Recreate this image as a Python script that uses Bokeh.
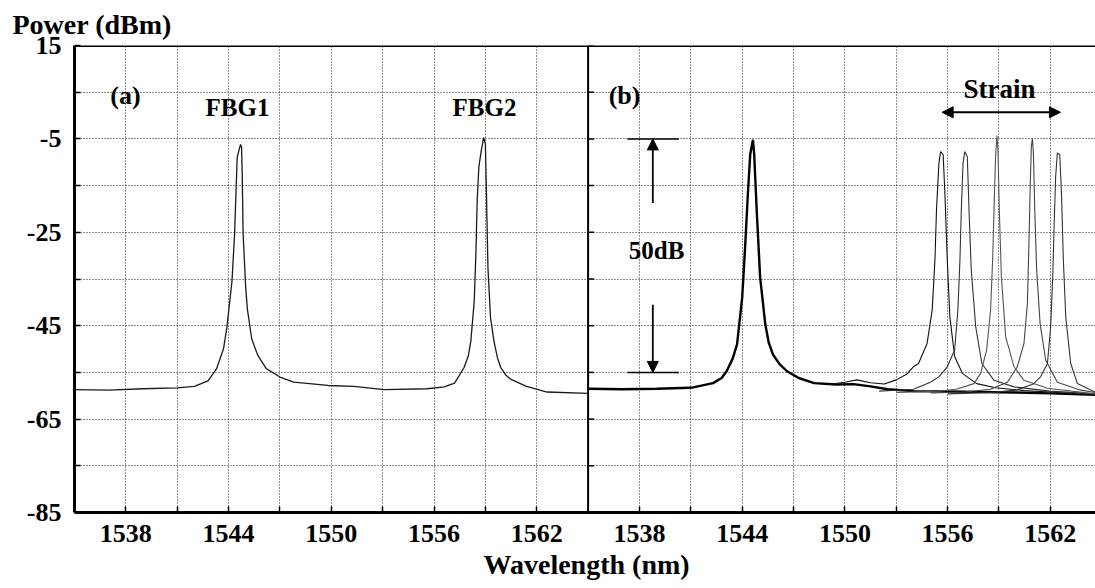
from bokeh.plotting import figure
from bokeh.models import (Range1d, FixedTicker, CustomJSTickFormatter, Span, Label,
                          Arrow, NormalHead, Title)
from bokeh.embed import file_html
from bokeh.resources import INLINE

# ---------------- data ----------------
# panel (a): FBG1 + FBG2 reflection spectrum
wl_a = [1535.0, 1537.0, 1539.0, 1541.0, 1542.0, 1542.8, 1543.3, 1543.7, 1543.9, 1544.2,
        1544.35, 1544.45, 1544.5, 1544.6, 1544.7, 1544.76, 1544.8, 1544.85, 1545.0, 1545.1,
        1545.35, 1545.7, 1546.2, 1547.0, 1547.8, 1549.8, 1551.3, 1553.1, 1555.6, 1556.6,
        1557.2, 1557.75, 1558.0, 1558.15, 1558.35, 1558.45, 1558.52, 1558.62, 1558.76, 1558.9,
        1559.0, 1559.05, 1559.15, 1559.3, 1559.5, 1559.7, 1559.9, 1560.2, 1560.5, 1561.4,
        1562.6, 1565.0]
pw_a = [-58.7, -58.8, -58.5, -58.3, -58.0, -56.8, -54.2, -50.0, -45.4, -35.4,
        -25.4, -14.7, -9.0, -7.5, -6.2, -6.8, -13.3, -25.4, -36.9, -41.5,
        -47.8, -51.3, -54.2, -56.0, -57.1, -57.8, -58.0, -58.7, -58.5, -58.1,
        -57.3, -54.0, -51.5, -48.3, -39.7, -29.0, -18.3, -11.0, -7.5, -4.7,
        -6.1, -14.6, -32.6, -43.3, -48.3, -51.8, -54.0, -55.6, -56.5, -58.0,
        -59.2, -59.5]

# panel (b): FBG1 (several overlapping sweeps) and the lower envelope
wl_b_fbg1 = [1535.0, 1537.0, 1539.0, 1541.0, 1542.3, 1542.8, 1543.1, 1543.45, 1543.7, 1544.0,
             1544.18, 1544.33, 1544.47, 1544.63, 1544.7, 1544.85, 1545.05, 1545.35, 1545.55,
             1545.8, 1546.2, 1546.6, 1547.3, 1548.2, 1549.5, 1550.5, 1551.5, 1552.5, 1554.0,
             1556.0, 1558.0, 1560.0, 1562.0, 1564.7]
pw_b_fbg1 = [-58.5, -58.6, -58.5, -58.3, -57.3, -56.2, -54.7, -52.0, -49.0, -39.0,
             -27.6, -16.9, -8.3, -5.2, -8.2, -20.4, -34.7, -44.7, -48.6,
             -51.2, -53.3, -54.7, -56.2, -57.3, -57.6, -57.5, -58.0, -58.6, -59.0,
             -59.1, -59.2, -59.3, -59.5, -59.8]

# panel (b): FBG2 under increasing strain (5 sweeps)
wl_s1 = [1549.0, 1550.0, 1550.7, 1551.5, 1552.3, 1553.0, 1553.6, 1554.0, 1554.3, 1554.8,
         1555.1, 1555.26, 1555.35, 1555.49, 1555.59, 1555.74, 1555.84, 1555.98, 1556.13, 1556.41,
         1556.86, 1557.7, 1558.8, 1560.5, 1562.5, 1564.6]
pw_s1 = [-57.6, -57.1, -56.6, -57.2, -57.5, -56.6, -55.4, -53.8, -53.1, -48.8,
         -41.6, -30.9, -20.2, -10.2, -7.7, -8.4, -16.6, -30.9, -43.1, -51.6,
         -55.2, -57.4, -58.3, -58.9, -59.3, -59.7]

wl_s2 = [1552.0, 1554.0, 1555.0, 1555.5, 1555.98, 1556.41, 1556.6, 1556.72, 1556.8, 1556.9,
         1557.0, 1557.15, 1557.25, 1557.38, 1557.64, 1558.0, 1558.71, 1559.88, 1562.0, 1564.6]
pw_s2 = [-59.0, -58.6, -57.1, -55.9, -53.8, -50.2, -41.6, -30.9, -20.2, -10.2,
         -7.7, -8.8, -20.2, -33.0, -45.2, -53.1, -56.7, -58.1, -59.0, -59.6]

wl_s3 = [1553.0, 1555.5, 1556.5, 1557.54, 1557.93, 1558.28, 1558.51, 1558.63, 1558.71, 1558.8,
         1558.88, 1558.94, 1559.02, 1559.14, 1559.39, 1559.88, 1560.46, 1561.83, 1564.6]
pw_s3 = [-59.3, -59.0, -58.6, -57.4, -55.2, -50.2, -41.6, -30.9, -20.2, -8.8,
         -4.3, -7.3, -20.2, -34.5, -47.4, -53.8, -56.7, -58.4, -59.6]

wl_s4 = [1555.0, 1557.0, 1558.5, 1559.49, 1560.07, 1560.46, 1560.66, 1560.75, 1560.83, 1560.89,
         1560.95, 1561.01, 1561.09, 1561.2, 1561.4, 1561.73, 1562.41, 1563.78, 1564.6]
pw_s4 = [-59.4, -59.2, -58.6, -57.1, -53.8, -48.8, -40.2, -27.3, -14.4, -6.6,
         -5.0, -8.0, -20.2, -33.0, -44.5, -52.4, -57.1, -58.8, -59.3]

wl_s5 = [1556.0, 1558.5, 1560.0, 1561.0, 1561.44, 1561.83, 1562.02, 1562.14, 1562.22, 1562.31,
         1562.41, 1562.55, 1562.65, 1562.76, 1562.9, 1563.19, 1563.58, 1564.6]
pw_s5 = [-59.6, -59.3, -58.8, -57.5, -55.9, -53.1, -45.2, -34.5, -23.8, -13.1,
         -8.0, -8.4, -16.6, -30.9, -43.1, -53.1, -57.4, -59.2]

strain_traces = [(wl_s1, pw_s1, "#111111"), (wl_s2, pw_s2, "#333333"),
                 (wl_s3, pw_s3, "#555555"), (wl_s4, pw_s4, "#444444"),
                 (wl_s5, pw_s5, "#333333")]

x_ticks = [1538, 1541, 1544, 1547, 1550, 1553, 1556, 1559, 1562]
y_ticks = [15, 5, -5, -15, -25, -35, -45, -55, -65, -75, -85]

# ---------------- layout constants ----------------
FONT = "Liberation Serif"
PANEL_START = 1535.0
PANEL_SPAN = 30.0            # each panel covers 1535 .. 1565 nm
PX_PER_NM = 17.12
W, H = 1095, 588
BL, BR, BT, BB = 74, 0, 45, 76
FRAME_W = W - BL - BR
x_end = PANEL_START + FRAME_W / PX_PER_NM
panel_a_end = PANEL_START + PANEL_SPAN

p = figure(width=W, height=H, output_backend="svg", toolbar_location=None,
           x_range=Range1d(PANEL_START, x_end), y_range=Range1d(-85, 15),
           min_border_left=BL, min_border_right=BR, min_border_top=BT,
           min_border_bottom=BB, title=None, background_fill_color="white",
           border_fill_color="white")
p.extra_x_ranges = {"b": Range1d(PANEL_START - PANEL_SPAN, x_end - PANEL_SPAN)}
p.outline_line_color = None

# x axis (one axis, both panels)
xa = p.xaxis[0]
xa.ticker = FixedTicker(ticks=x_ticks + [t + PANEL_SPAN for t in x_ticks])
xa.formatter = CustomJSTickFormatter(code="""
    const t = tick > %f ? tick - %f : tick;
    return (Math.round(t - 1538) %% 6 == 0) ? t.toFixed(0) : "";
""" % (panel_a_end, PANEL_SPAN))
ya = p.yaxis[0]
ya.ticker = FixedTicker(ticks=y_ticks)
ya.formatter = CustomJSTickFormatter(code="""
    return (Math.round(tick - 15) % 20 == 0) ? tick.toFixed(0) : "";
""")
for ax in (xa, ya):
    ax.axis_line_width = 3
    ax.axis_line_color = "black"
    ax.major_tick_in = 6
    ax.major_tick_out = 0
    ax.major_tick_line_width = 1.5
    ax.major_tick_line_color = "black"
    ax.minor_tick_line_color = None
    ax.major_label_text_font = FONT
    ax.major_label_text_font_style = "bold"
    ax.major_label_text_font_size = "26px"
    ax.major_label_text_color = "black"
xa.major_label_standoff = 12
ya.major_label_standoff = 13

for g in (p.xgrid[0], p.ygrid[0]):
    g.grid_line_color = "#222222"
    g.grid_line_dash = "1 2"
    g.grid_line_width = 1

# titles placed outside the frame
p.add_layout(Title(text="Power (dBm)", align="left", offset=-62, standoff=12,
                   text_font=FONT, text_font_style="bold", text_font_size="28px",
                   text_color="black"), "above")
p.add_layout(Title(text="Wavelength (nm)", align="left", offset=409, standoff=4,
                   text_font=FONT, text_font_style="bold", text_font_size="28px",
                   text_color="black"), "below")

# frame: top border and panel divider
p.add_layout(Span(location=15, dimension="width", line_color="black", line_width=3))
p.add_layout(Span(location=panel_a_end, dimension="height", line_color="black", line_width=2))
p.ray(x=[panel_a_end] * len(y_ticks), y=y_ticks, length=6, length_units="screen",
      angle=0, line_color="black", line_width=1.5)

# traces
p.line(wl_a, pw_a, line_color="#1a1a1a", line_width=1.3)
p.line(wl_b_fbg1, pw_b_fbg1, x_range_name="b", line_color="black", line_width=2.4)
for wl, pw, c in strain_traces:
    p.line(wl, pw, x_range_name="b", line_color=c, line_width=1.1)

# texts inside the frame
def lab(x, y, text, size, rng="default"):
    p.add_layout(Label(x=x, y=y, text=text, x_range_name=rng, text_font=FONT,
                       text_font_style="bold", text_font_size=size, text_color="black",
                       text_align="center", text_baseline="middle"))

lab(1537.98, 4.3, "(a)", "26px")
lab(1537.13, 4.3, "(b)", "26px", rng="b")
lab(1544.52, 1.7, "FBG1", "25px")
lab(1558.95, 1.7, "FBG2", "25px")
lab(1559.03, 5.6, "Strain", "27px", rng="b")
lab(1539.0, -28.9, "50dB", "25px", rng="b")

# 50 dB marker
p.segment(x0=[1537.3, 1537.3], y0=[-5, -55], x1=[1540.3, 1540.3], y1=[-5, -55],
          x_range_name="b", line_color="black", line_width=1.5)
head = dict(size=11, fill_color="black", line_color="black")
p.add_layout(Arrow(end=NormalHead(**head), x_start=1538.78, y_start=-18.7,
                   x_end=1538.78, y_end=-5.0, x_range_name="b", line_width=1.8))
p.add_layout(Arrow(end=NormalHead(**head), x_start=1538.78, y_start=-40.5,
                   x_end=1538.78, y_end=-55.0, x_range_name="b", line_width=1.8))
# strain arrow
p.add_layout(Arrow(start=NormalHead(**head), end=NormalHead(**head),
                   x_start=1555.68, y_start=0.7, x_end=1562.59, y_end=0.7,
                   x_range_name="b", line_width=2))

open("out.html", "w").write(file_html(p, INLINE))
